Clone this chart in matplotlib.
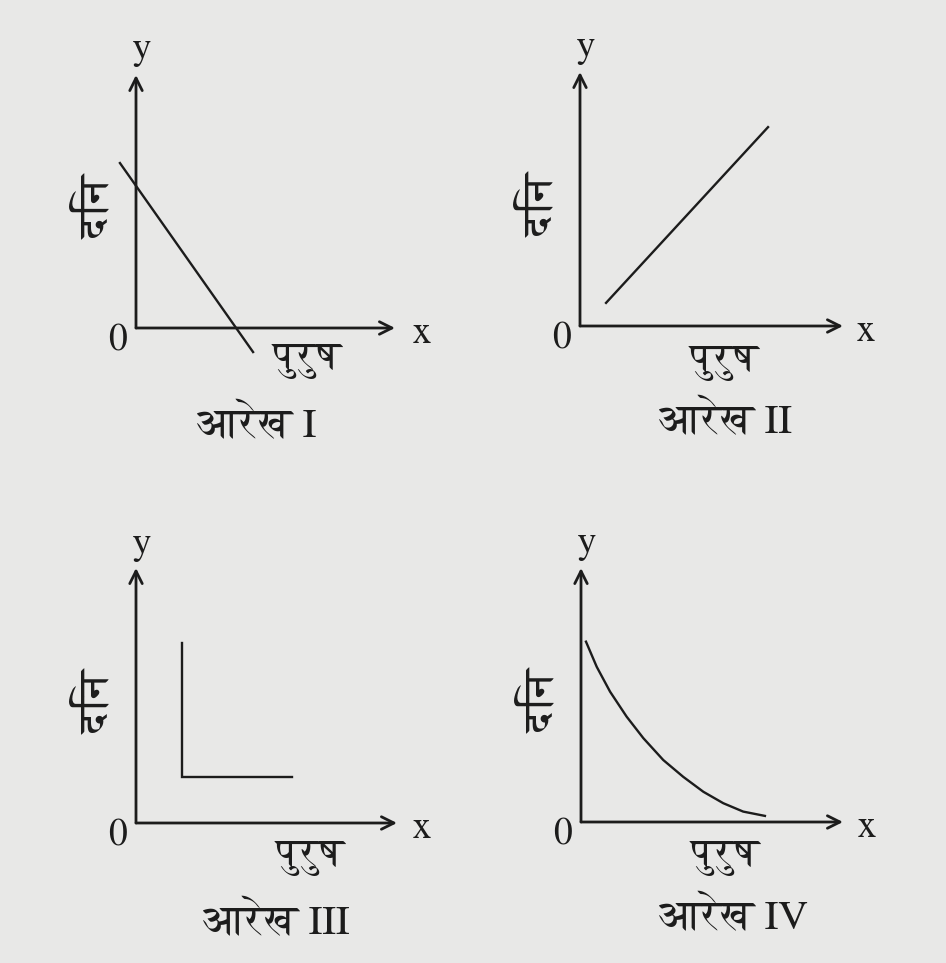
import matplotlib
matplotlib.use("Agg")
import matplotlib.pyplot as plt

W, H = 946, 963
plt.rcParams['font.family'] = ['FreeSerif', 'DejaVu Serif']

INK = '#1c1c1c'
PAPER = '#e8e8e7'

# Labels
ylabel = 'दिन'
xlabel = 'पुरुष'
captions = ['आरेख I', 'आरेख II', 'आरेख III', 'आरेख IV']

# Curves (units: 0 = origin, 10 = arrow tip)
line1_x = [-0.62, 4.52]
line1_y = [6.52, -0.95]
line2_x = [0.99, 7.15]
line2_y = [0.91, 7.83]
line3_x = [1.76, 1.76, 5.98]
line3_y = [7.06, 1.80, 1.80]
curve4_x = [0.19, 0.60, 1.11, 1.74, 2.38, 3.14, 3.90, 4.67, 5.43, 6.19, 7.02]
curve4_y = [7.10, 6.11, 5.13, 4.15, 3.30, 2.44, 1.78, 1.19, 0.74, 0.41, 0.24]

series = [(line1_x, line1_y), (line2_x, line2_y), (line3_x, line3_y), (curve4_x, curve4_y)]

# panel layout in pixels: origin x, origin y, x arrow tip, y arrow tip
panels = [(136, 328, 395, 75),
          (580, 326, 843, 72),
          (136, 823, 397, 568),
          (581, 822, 843, 568)]
# label offsets from origin in pixels: xlabel (purush), caption
xlab_off = [(171, 32), (144, 36), (174, 34), (144, 35)]
cap_off = [(121, 98), (145, 96), (140, 100), (152, 96)]

fig = plt.figure(figsize=(W / 100, H / 100), dpi=100)
fig.patch.set_facecolor(PAPER)


def fpos(x, y):
    # pixel -> figure fraction
    return x / W, 1 - y / H


for i, (ox, oy, tx, ty) in enumerate(panels):
    ax = fig.add_axes([ox / W, 1 - oy / H, (tx - ox) / W, (oy - ty) / H])
    ax.set_xlim(0, 10)
    ax.set_ylim(0, 10)
    ax.axis('off')

    # axes with open arrow heads
    arrow = dict(arrowstyle='->,head_length=0.9,head_width=0.45', lw=2.0,
                 color=INK, shrinkA=0, shrinkB=0)
    ax.annotate('', xy=(10, 0), xytext=(0, 0), arrowprops=arrow)
    ax.annotate('', xy=(0, 10), xytext=(0, 0), arrowprops=arrow)

    sx, sy = series[i]
    ax.plot(sx, sy, color=INK, lw=1.7, clip_on=False, solid_joinstyle='miter')

    fig.text(*fpos(ox + 6, oy - 278), 'y', fontsize=27, color=INK, ha='center', va='center')
    fig.text(*fpos(ox + 286, oy + 6), 'x', fontsize=27, color=INK, ha='center', va='center')
    fig.text(*fpos(ox - 19, oy + 13), '0', fontsize=27, color=INK, ha='center', va='center')
    fig.text(*fpos(ox - 38, oy - 121), ylabel, fontsize=31, color=INK,
             rotation=90, ha='center', va='center')
    fig.text(*fpos(ox + xlab_off[i][0], oy + xlab_off[i][1]), xlabel, fontsize=29,
             color=INK, ha='center', va='center')
    fig.text(*fpos(ox + cap_off[i][0], oy + cap_off[i][1]), captions[i], fontsize=30,
             color=INK, ha='center', va='center')

fig.savefig('out.png', dpi=100, facecolor=fig.get_facecolor())
